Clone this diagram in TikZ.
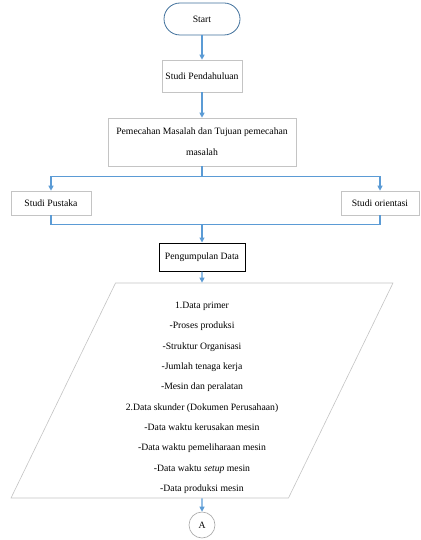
\documentclass[tikz,border=0pt]{standalone}
\usepackage{fontspec}
\setmainfont{Liberation Serif}
\usetikzlibrary{positioning,shapes.geometric,arrows.meta,shadows}
\definecolor{flowblue}{HTML}{5B9BD5}
\definecolor{boxgray}{HTML}{C4C4C4}
\definecolor{termblue}{HTML}{41719C}

\begin{document}
\begin{tikzpicture}[->,>={Triangle[length=5pt,width=5pt]},
    font=\fontsize{9.7}{11.6}\selectfont,
    proc node/.style={rectangle,draw=boxgray,fill=white,line width=0.6pt,drop shadow={shadow xshift=1.2pt,shadow yshift=-1.2pt,opacity=0.15}},
    start node/.style={rectangle,rounded corners=16pt,draw=termblue,fill=white,line width=0.8pt,minimum width=76pt,minimum height=32pt},
    key node/.style={rectangle,draw=black,fill=white,line width=1pt,minimum width=86pt,minimum height=28pt},
    data node/.style={trapezium,trapezium left angle=63.8,trapezium right angle=116.2,trapezium stretches body,draw=boxgray,fill=white,line width=0.6pt,minimum width=382pt,minimum height=215pt,align=center,font=\fontsize{9.7}{20.3}\selectfont},
    conn node/.style={circle,draw=gray!70,fill=white,line width=0.6pt,minimum size=26pt,inner sep=0pt},
    flow/.style={draw=flowblue,line width=1.1pt}]
  \useasboundingbox (0,0) rectangle (420pt,-540pt);
  \node[start node] (start) at (202pt,-19pt) {Start};
  \node[proc node,minimum width=80pt,minimum height=32pt] (studi) [below of=start,node distance=57pt] {Studi Pendahuluan};
  \node[proc node,minimum width=188pt,minimum height=48pt,align=center,font=\fontsize{9.7}{21}\selectfont] (masalah) [below of=studi,node distance=66pt] {Pemecahan Masalah dan Tujuan pemecahan\\masalah};
  \node[proc node,minimum width=80pt,minimum height=24pt] (pustaka) [below of=masalah,node distance=61pt,xshift=-151pt] {Studi Pustaka};
  \node[proc node,minimum width=78pt,minimum height=24pt] (orientasi) [below of=masalah,node distance=61pt,xshift=178pt] {Studi orientasi};
  \node[key node] (kumpul) [below of=masalah,node distance=115pt] {Pengumpulan Data};
  \node[data node] (data) [below of=kumpul,node distance=133.5pt] {\rule{0pt}{21pt}1.Data primer\\-Proses produksi\\-Struktur Organisasi\\-Jumlah tenaga kerja\\-Mesin dan peralatan\\2.Data skunder (Dokumen Perusahaan)\\-Data waktu kerusakan mesin\\-Data waktu pemeliharaan mesin\\-Data waktu \textit{setup} mesin\\-Data produksi mesin};
  \node[conn node] (conA) [below of=data,node distance=134.5pt] {A};

  % alur utama
  \draw[flow] (start) -- (studi);
  \draw[flow] (studi) -- (masalah);
  \draw[flow] (masalah.south) -- ++(0,-10pt) -| (pustaka.north);
  \draw[flow] (masalah.south) -- ++(0,-10pt) -| (orientasi.north);
  % gabungan studi
  \path (pustaka.south) ++(0,-9pt) coordinate (m0);
  \coordinate (merge) at (m0 -| kumpul.north);
  \draw[flow,-] (pustaka.south) |- (merge) -| (orientasi.south);
  \draw[flow] (merge) -- (kumpul);
  \draw[flow] (kumpul) -- (data);
  \draw[flow] (data) -- (conA);
\end{tikzpicture}
\end{document}
